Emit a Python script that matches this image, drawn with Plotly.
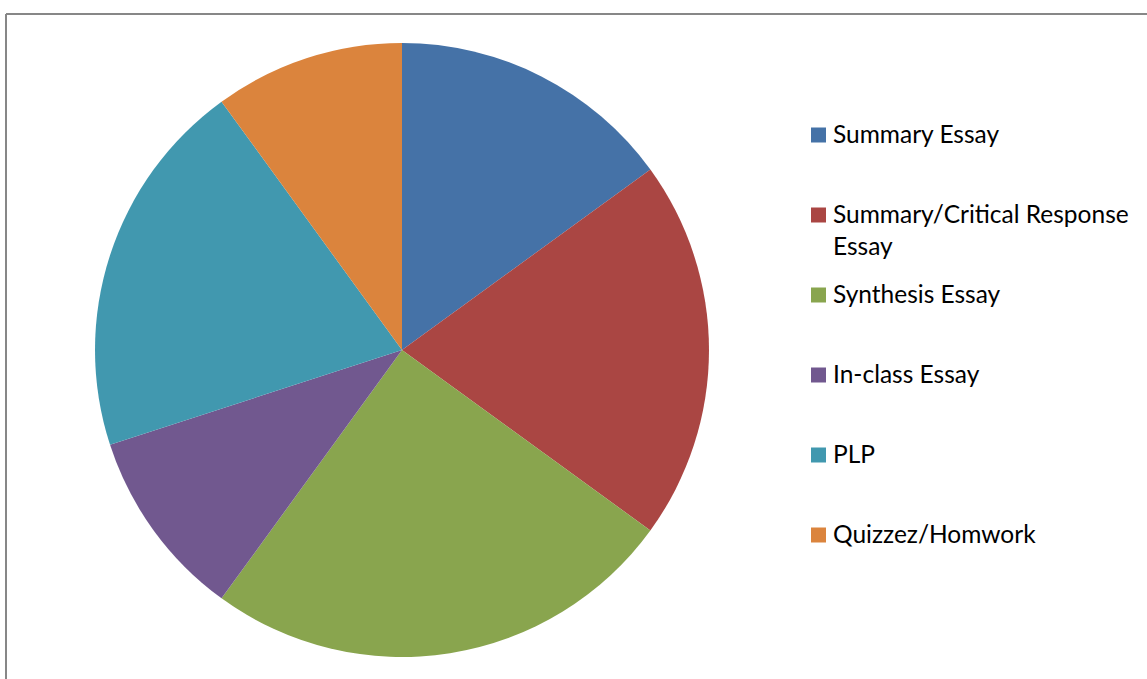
import plotly.graph_objects as go

labels = ["Summary Essay", "Summary/Critical Response Essay", "Synthesis Essay",
          "In-class Essay", "PLP", "Quizzez/Homwork"]
legend_text = ["Summary Essay", "Summary/Critical Response<br>Essay", "Synthesis Essay",
               "In-class Essay", "PLP", "Quizzez/Homwork"]
values = [15, 20, 25, 10, 20, 10]
colors = ["#4572A7", "#AA4643", "#89A54E", "#71588F", "#4198AF", "#DB843D"]

W, H = 1147, 679

fig = go.Figure(go.Pie(
    labels=labels, values=values, sort=False, direction="clockwise", rotation=0,
    marker=dict(colors=colors, line=dict(width=0)),
    textinfo="none", hoverinfo="label+percent",
    domain=dict(x=[95 / W, 709 / W], y=[1 - 657 / H, 1 - 43 / H]),
    showlegend=False,
))

shapes = [
    dict(type="line", xref="paper", yref="paper", x0=6 / W, x1=1.02, y0=1 - 14 / H, y1=1 - 14 / H,
         line=dict(color="#878787", width=2)),
    dict(type="line", xref="paper", yref="paper", x0=6 / W, x1=6 / W, y0=1 - 14 / H, y1=-0.02,
         line=dict(color="#878787", width=2)),
]
annotations = []
for i, (t, c) in enumerate(zip(legend_text, colors)):
    cy = 135 + 80 * i
    shapes.append(dict(type="rect", xref="paper", yref="paper",
                       x0=811 / W, x1=826 / W, y0=1 - (cy + 7.5) / H, y1=1 - (cy - 7.5) / H,
                       fillcolor=c, line=dict(width=0)))
    annotations.append(dict(xref="paper", yref="paper", x=831 / W, y=1 - (cy - 18) / H,
                            xanchor="left", yanchor="top", align="left", showarrow=False,
                            text=t, font=dict(family="Lato", size=24.5, color="#000000")))

fig.update_layout(
    width=W, height=H, margin=dict(l=0, r=0, t=0, b=0),
    paper_bgcolor="white", plot_bgcolor="white",
    shapes=shapes, annotations=annotations,
)
fig.write_html("out.html", config={"displayModeBar": False},
               post_script="document.body.style.margin='0';")
